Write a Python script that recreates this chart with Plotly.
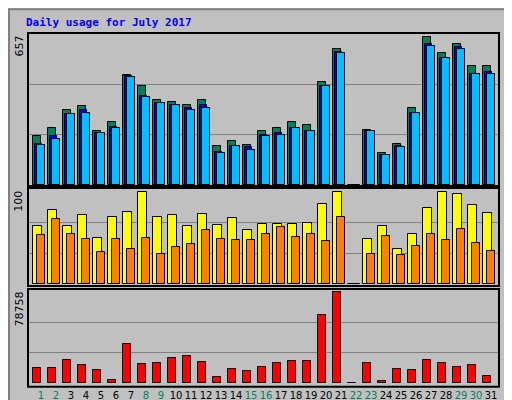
import plotly.graph_objs as go

days = list(range(1, 32))
hits = [211, 247, 328, 342, 237, 272, 477, 429, 368, 363, 350, 368, 171, 193, 176, 233,
        246, 272, 263, 446, 590, 0, 241, 141, 180, 333, 642, 573, 612, 516, 516]
files = [179, 215, 307, 324, 228, 254, 474, 385, 355, 350, 333, 346, 145, 171, 167, 219,
         228, 250, 233, 429, 577, 0, 233, 132, 171, 315, 612, 551, 599, 481, 490]
pages = [176, 198, 307, 315, 228, 250, 471, 381, 355, 350, 328, 333, 141, 171, 154, 211,
         219, 250, 237, 429, 573, 0, 233, 132, 167, 315, 603, 551, 590, 481, 481]
visits = [63, 81, 63, 75, 50, 73, 79, 100, 73, 75, 63, 76, 64, 72, 59, 65,
          65, 65, 67, 87, 100, 0, 49, 63, 38, 54, 83, 100, 98, 86, 77]
sites = [53, 71, 54, 49, 35, 49, 38, 50, 33, 40, 44, 59, 49, 48, 48, 55,
         62, 51, 55, 47, 73, 0, 33, 52, 32, 41, 54, 48, 60, 45, 36]
kbytes = [13222, 13222, 20121, 15522, 11210, 2587, 33630, 16384, 17246, 21558, 23282,
          18108, 5174, 12072, 10348, 13797, 17246, 18971, 18971, 58637, 78758, 0,
          17246, 1725, 12072, 11210, 20121, 17246, 13797, 15522, 6036]
weekend = [1, 2, 8, 9, 15, 16, 22, 23, 29, 30]
max_hits, max_visits, max_kb = 657, 100, 78758

bg = '#c0c0c0'
line = dict(color='black', width=1)
fig = go.Figure()


def bars(vals, off, width, color, ax):
    fig.add_trace(go.Bar(x=[d + off for d in days], y=vals, width=width,
                         marker=dict(color=color, line=line),
                         xaxis='x' + ax, yaxis='y' + ax, showlegend=False))


bars(hits, -0.27, 0.5, '#00805c', '')
bars(files, -0.17, 0.5, '#0000ff', '')
bars(pages, 0.0, 0.5, '#00c0ff', '')
bars(visits, -0.24, 0.58, '#ffff00', '2')
bars(sites, 0.0, 0.49, '#ff8000', '2')
bars(kbytes, -0.27, 0.53, '#ff0000', '3')

xr = [0.133, 31.53]
dom_x = [20 / 512, 491 / 512]
ticks = ["<span style='color:%s'>%d</span>" % ('#00805c' if d in weekend else 'black', d)
         for d in days]
common_x = dict(range=xr, domain=dom_x, showgrid=False, zeroline=False, showline=False)
fig.update_layout(
    width=512, height=400, margin=dict(l=0, r=0, t=0, b=0),
    paper_bgcolor=bg, plot_bgcolor=bg, barmode='overlay', bargap=0,
    font=dict(family='DejaVu Sans', size=11, color='black'),
    xaxis=dict(common_x, showticklabels=False, anchor='y'),
    xaxis2=dict(common_x, showticklabels=False, anchor='y2'),
    xaxis3=dict(common_x, tickvals=days, ticktext=ticks, ticks='', anchor='y3',
                tickangle=0, ticklabelstandoff=1, tickfont=dict(size=10)),
    yaxis=dict(domain=[0.555, 0.9375], range=[-4.35, 661], tickvals=[max_hits / 3, 2 * max_hits / 3],
               showticklabels=False, gridcolor='#808080', zeroline=False, anchor='x'),
    yaxis2=dict(domain=[0.305, 0.55], range=[-2.2, 104.7], tickvals=[max_visits / 3, 2 * max_visits / 3],
                showticklabels=False, gridcolor='#808080', zeroline=False, anchor='x2'),
    yaxis3=dict(domain=[0.053, 0.2975], range=[-2860, 81344], tickvals=[max_kb / 3, 2 * max_kb / 3],
                showticklabels=False, gridcolor='#808080', zeroline=False, anchor='x3'),
)

for ref, dom in [('', [0.555, 0.9375]), ('2', [0.305, 0.55]), ('3', [0.053, 0.2975])]:
    fig.add_shape(type='rect', xref='paper', yref='paper', x0=dom_x[0], x1=dom_x[1],
                  y0=dom[0], y1=dom[1], line=dict(color='black', width=2))

fig.add_shape(type='rect', xref='paper', yref='paper', x0=0.002, x1=0.998, y0=0.003, y1=0.997,
              line=dict(color='#808080', width=2))

fig.add_annotation(text='<b>Daily usage for July 2017</b>', xref='paper', yref='paper',
                   x=16 / 512, y=1 - 15 / 400, xanchor='left', yanchor='middle', showarrow=False,
                   font=dict(family='DejaVu Sans Mono', size=11, color='#0000ff'))
for lab, ytop in [(str(max_hits), 0.935), (str(max_visits), 0.547), (str(max_kb), 0.295)]:
    fig.add_annotation(text=lab, xref='paper', yref='paper', x=11 / 512, y=ytop,
                       xanchor='center', yanchor='top', textangle=-90, showarrow=False,
                       font=dict(size=11))
mono = dict(family='DejaVu Sans Mono', size=10)
right = [("<span style='color:#00c0ff'>Pages</span> / "
          "<span style='color:#0000ff'>Files</span> / "
          "<span style='color:#00805c'>Hits</span>", 0.935),
         ("<span style='color:#ff8000'>Sites</span> / "
          "<span style='color:#e0e000'>Visits</span>", 0.547),
         ("<span style='color:#ff0000'>kB F</span> / "
          "<span style='color:#0000ff'>kB In</span> / "
          "<span style='color:#00805c'>kB Out</span>", 0.323)]
for txt, ytop in right:
    fig.add_annotation(text=txt, xref='paper', yref='paper', x=501 / 512, y=ytop,
                       xanchor='center', yanchor='top', textangle=90, showarrow=False,
                       font=mono)

fig.write_html("out.html")
